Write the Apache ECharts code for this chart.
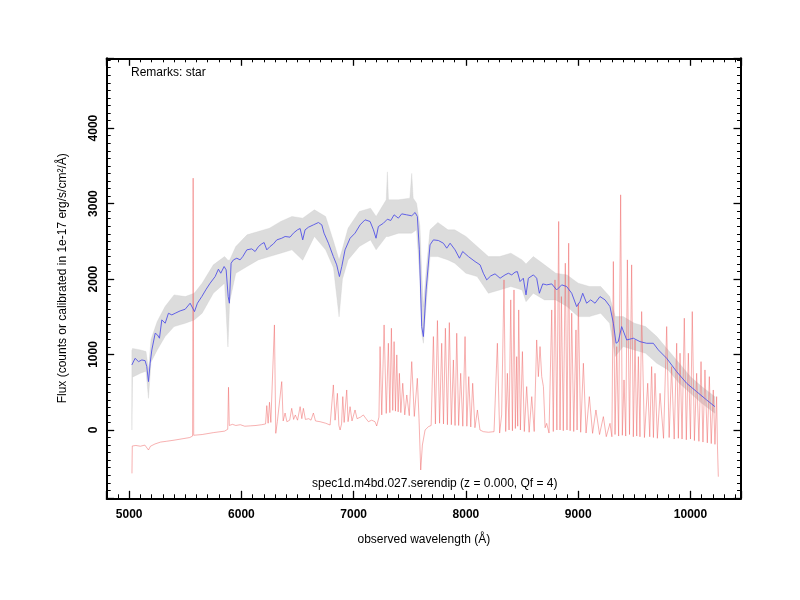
<!DOCTYPE html>
<html>
<head>
<meta charset="utf-8">
<script src="https://cdn.jsdelivr.net/npm/echarts@6/dist/echarts.min.js"></script>
<style>
html,body{margin:0;padding:0;background:#fff;}
#chart{width:800px;height:600px;}
</style>
</head>
<body>
<div id="chart"></div>
<script>
// ---- data ----
const remarksText = "Remarks: star";
const titleText = "spec1d.m4bd.027.serendip (z = 0.000, Qf = 4)";
const xAxisName = "observed wavelength (Å)";
const yAxisName = "Flux (counts or calibrated in 1e-17 erg/s/cm²/Å)";

// smoothed flux (blue)
const smoothFlux = [
[5024,862],[5053,950],[5083,906],[5113,928],[5142,919],[5157,840],[5172,641],[5187,884],[5202,1061],
[5232,1282],[5252,1260],[5270,1216],[5291,1459],[5321,1415],[5350,1547],[5380,1525],[5410,1547],
[5454,1578],[5499,1600],[5543,1680],[5582,1569],[5608,1680],[5647,1768],[5686,1865],[5721,1945],
[5766,2033],[5795,2131],[5816,2077],[5846,2166],[5864,2122],[5882,1768],[5893,1680],[5908,2210],
[5929,2254],[5959,2276],[5988,2254],[6012,2298],[6048,2387],[6092,2400],[6122,2365],[6152,2431],
[6181,2466],[6202,2484],[6226,2387],[6255,2431],[6285,2466],[6315,2519],[6359,2541],[6389,2564],
[6433,2555],[6463,2608],[6499,2652],[6523,2670],[6546,2519],[6567,2652],[6597,2687],[6641,2718],
[6686,2749],[6716,2718],[6736,2608],[6775,2475],[6819,2298],[6849,2188],[6873,2033],[6894,2166],
[6923,2387],[6968,2541],[7012,2608],[7057,2718],[7101,2785],[7146,2763],[7176,2652],[7199,2541],
[7220,2696],[7265,2740],[7300,2793],[7330,2776],[7360,2851],[7398,2807],[7428,2864],[7472,2851],
[7517,2838],[7547,2882],[7567,2829],[7585,2387],[7606,1370],[7621,1238],[7645,1856],[7680,2453],
[7710,2519],[7754,2511],[7799,2475],[7829,2409],[7859,2475],[7903,2387],[7942,2276],[7971,2365],
[8022,2298],[8081,2232],[8126,2188],[8155,2077],[8185,1989],[8221,2042],[8259,2069],[8304,2011],
[8348,2055],[8378,2077],[8408,2055],[8437,2091],[8458,2099],[8482,1967],[8511,2011],[8535,1790],
[8556,2011],[8601,2055],[8630,2011],[8654,1812],[8684,1936],[8719,1923],[8764,1936],[8808,1856],
[8853,1923],[8897,1901],[8942,1812],[8986,1635],[9016,1702],[9040,1812],[9075,1680],[9111,1724],
[9150,1680],[9194,1768],[9239,1724],[9283,1635],[9313,1415],[9337,1149],[9357,1171],[9387,1370],
[9432,1193],[9491,1216],[9550,1171],[9610,1149],[9669,1149],[9714,1061],[9788,950],[9877,773],
[9966,619],[10055,508],[10144,398],[10218,309]
];

// raw flux envelope (grey): wavelength, lower edge, upper edge
const rawWave = [5024,5030,5100,5150,5172,5195,5250,5320,5400,5500,5580,5650,5750,5850,5880,5895,5950,6050,6150,6250,6350,6450,6546,6650,6750,6820,6870,6900,6950,7050,7150,7200,7290,7300,7310,7400,7500,7517,7530,7560,7590,7606,7621,7645,7680,7750,7840,7900,8000,8100,8200,8300,8400,8500,8535,8600,8700,8800,8900,9000,9100,9200,9280,9330,9400,9500,9600,9700,9800,9900,10000,10100,10218];
const rawLow  = [0,700,752,780,420,900,1061,1238,1370,1415,1459,1547,1812,1945,1100,1700,2077,2166,2254,2298,2343,2387,2250,2564,2387,2150,1500,2000,2254,2431,2519,2387,2564,2564,2564,2608,2608,2608,2620,2652,2000,1282,1149,1650,2298,2298,2254,2210,2077,2033,1812,1856,1901,1856,1700,1812,1724,1724,1635,1503,1503,1547,1415,973,1105,1061,1017,884,796,619,486,354,221];
const rawHigh = [1050,1080,1061,1040,800,1200,1437,1636,1790,1768,1812,1945,2188,2298,2250,2250,2431,2586,2630,2674,2763,2829,2807,2917,2829,2500,2254,2400,2674,2895,2939,2829,3050,3420,3050,3050,3072,3400,3072,3006,2700,2077,1636,2100,2652,2750,2652,2652,2564,2431,2298,2298,2343,2254,2200,2298,2188,2077,2055,1945,1901,1901,1768,1503,1503,1415,1370,1238,1061,884,707,575,442];

// error / sky spectrum (red)
const errFlux = [
[5025,-575],[5028,-212],[5060,-205],[5100,-215],[5140,-200],[5172,-265],[5190,-215],[5230,-185],[5280,-160],
[5330,-150],[5400,-135],[5480,-115],[5540,-100],[5565,-80],[5570,3337],[5575,-70],[5650,-60],[5750,-35],
[5850,-15],[5878,10],[5885,566],[5892,60],[5920,75],[5950,60],[5990,70],[6030,50],[6080,55],[6130,60],
[6180,70],[6215,80],[6226,323],[6238,90],[6250,368],[6262,100],[6294,1392],[6306,-44],[6320,110],[6359,641],
[6372,120],[6389,225],[6405,110],[6430,130],[6448,287],[6465,140],[6480,199],[6500,130],[6523,309],[6538,150],
[6552,287],[6570,140],[6600,150],[6620,130],[6641,225],[6660,120],[6700,110],[6750,90],[6790,66],[6805,80],
[6819,597],[6834,130],[6855,486],[6868,60],[6879,0],[6892,80],[6903,442],[6915,100],[6938,530],[6950,110],
[6968,309],[6985,120],[7012,265],[7030,150],[7060,170],[7086,199],[7110,150],[7131,110],[7160,130],[7190,110],
[7205,53],[7225,170],[7235,1105],[7250,200],[7271,1392],[7290,220],[7309,1149],[7322,230],[7336,1348],[7348,260],
[7360,1171],[7372,250],[7384,995],[7396,240],[7407,751],[7420,230],[7437,619],[7455,200],[7473,464],[7495,190],
[7517,906],[7540,180],[7567,685],[7582,150],[7597,-530],[7612,-200],[7636,0],[7666,44],[7690,60],
[7710,1238],[7728,80],[7746,1450],[7765,90],[7784,1149],[7800,80],[7817,1348],[7835,70],[7852,1423],[7870,70],
[7888,928],[7903,60],[7918,1282],[7935,60],[7953,751],[7972,50],[7992,1238],[8008,50],[8025,707],[8043,40],
[8060,619],[8080,30],[8102,265],[8125,0],[8155,-22],[8200,-30],[8250,-22],
[8280,1149],[8300,-40],[8318,200],[8339,1989],[8354,-20],[8369,751],[8384,0],[8399,1724],[8414,-10],[8428,1856],
[8440,20],[8452,972],[8461,50],[8470,1591],[8485,0],[8503,1039],[8520,-20],[8541,575],[8563,-30],[8586,442],
[8608,-20],[8630,1193],[8645,707],[8660,1105],[8675,707],[8690,575],[8705,30],[8719,88],[8740,-40],[8764,1591],
[8778,-20],[8793,1989],[8810,0],[8826,2763],[8838,0],[8850,1768],[8867,-10],[8885,2210],[8900,0],[8915,2475],
[8928,-10],[8942,1547],[8960,-20],[8980,1326],[8990,0],[9001,1680],[9022,-30],[9046,884],[9070,-40],[9099,442],
[9128,-44],[9158,265],[9190,-60],[9224,177],[9250,-88],[9283,88],[9300,-90],
[9313,2232],[9328,-60],[9343,1105],[9360,-80],[9378,3116],[9393,-70],[9408,663],[9423,-80],[9438,2254],[9457,-60],
[9476,2188],[9491,-90],[9506,1193],[9521,-80],[9536,972],[9550,-90],[9565,1569],[9590,-100],[9619,619],[9637,-90],
[9654,840],[9670,-100],[9684,751],[9705,-110],[9729,486],[9760,-110],[9788,1370],[9810,-100],[9832,840],[9855,-120],
[9877,1149],[9892,-110],[9907,1017],[9925,-120],[9945,1481],[9963,-130],[9981,1017],[10000,-120],[10016,1569],
[10035,-140],[10055,751],[10075,-150],[10094,906],[10111,-160],[10129,796],[10150,-170],[10168,707],[10185,-180],
[10203,530],[10218,-190],[10233,442],[10240,-200],[10248,-619]
];

// axis ranges
const xMin = 4800, xMax = 10450;
const yMin = -905, yMax = 4925;

// ---- chart ----
const FONT = "Liberation Sans, Arial, Helvetica, sans-serif";
const chart = echarts.init(document.getElementById('chart'), null, {renderer: 'canvas'});

function axisCommon(showLabels, extraLabel) {
  return {
    type: 'value',
    splitNumber: 5,
    axisLine: {show: true, onZero: false, lineStyle: {color: '#000', width: 2}},
    axisTick: {show: true, inside: true, length: 7.5, lineStyle: {color: '#000', width: 1.3}},
    minorTick: {show: true, splitNumber: 10, length: 4, lineStyle: {color: '#000', width: 1}},
    splitLine: {show: false},
    minorSplitLine: {show: false},
    axisLabel: Object.assign({show: showLabels, color: '#000', fontWeight: 'bold', fontSize: 12,
      fontFamily: FONT, showMinLabel: false, showMaxLabel: false,
      formatter: function (v) { return String(v); }}, extraLabel || {})
  };
}

const bandSeries = {
  name: 'raw', type: 'custom', silent: true, clip: true,
  xAxisIndex: 0, yAxisIndex: 0,
  data: [[rawWave[0], rawLow[0]]],
  encode: {x: 0, y: 1},
  renderItem: function (params, api) {
    const pts = [];
    for (let i = 0; i < rawWave.length; i++) pts.push(api.coord([rawWave[i], rawHigh[i]]));
    for (let i = rawWave.length - 1; i >= 0; i--) pts.push(api.coord([rawWave[i], rawLow[i]]));
    return {
      type: 'polygon',
      shape: {points: pts},
      style: {fill: 'rgba(185,185,185,0.5)', stroke: 'rgba(200,200,200,0.6)', lineWidth: 0.5}
    };
  }
};

const option = {
  animation: false,
  backgroundColor: '#fff',
  grid: {left: 106.7, right: 59, top: 58.3, bottom: 101.7, containLabel: false},
  xAxis: [
    Object.assign(axisCommon(true, {margin: 10}), {
      min: xMin, max: xMax, position: 'bottom',
      name: xAxisName, nameLocation: 'middle', nameGap: 35,
      nameTextStyle: {color: '#000', fontSize: 12, fontFamily: FONT}
    }),
    Object.assign(axisCommon(false), {min: xMin, max: xMax, position: 'top'})
  ],
  yAxis: [
    Object.assign(axisCommon(true, {rotate: 90, margin: 7}), {
      min: yMin, max: yMax, position: 'left',
      name: yAxisName, nameLocation: 'middle', nameGap: 38,
      nameTextStyle: {color: '#000', fontSize: 12, fontFamily: FONT}
    }),
    Object.assign(axisCommon(false), {min: yMin, max: yMax, position: 'right'})
  ],
  graphic: [
    {type: 'text', left: 131, top: 67, style: {text: remarksText, fill: '#000', font: '12px ' + FONT}},
    {type: 'text', left: 312, top: 478, style: {text: titleText, fill: '#000', font: '12px ' + FONT}}
  ],
  series: [
    bandSeries,
    {name: 'error', type: 'line', data: errFlux, symbol: 'none', silent: true,
      lineStyle: {width: 0.6, color: 'rgba(240,100,100,0.85)'}, xAxisIndex: 0, yAxisIndex: 0},
    {name: 'smooth', type: 'line', data: smoothFlux, symbol: 'none', silent: true,
      lineStyle: {width: 0.9, color: '#5252e6'}, xAxisIndex: 0, yAxisIndex: 0}
  ]
};
chart.setOption(option);
</script>
</body>
</html>
